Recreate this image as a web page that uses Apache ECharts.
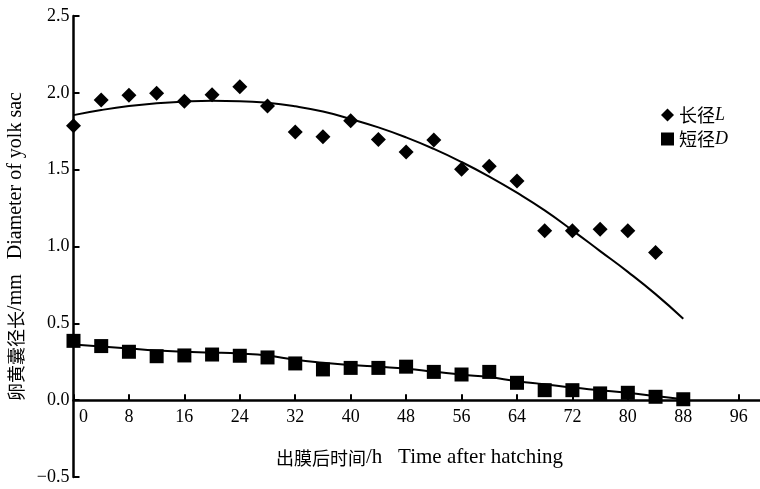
<!DOCTYPE html>
<html><head><meta charset="utf-8">
<script src="https://cdn.jsdelivr.net/npm/echarts@6/dist/echarts.min.js"></script>
<style>html,body{margin:0;padding:0;background:#fff}#c{width:760px;height:489px}</style>
</head><body><div id="c"></div>
<script>
const hours = [0,4,8,12,16,20,24,28,32,36,40,44,48,52,56,60,64,68,72,76,80,84,88];
const longDiam = [1.786,1.953,1.984,1.997,1.945,1.988,2.04,1.914,1.745,1.714,1.818,1.697,1.615,1.693,1.502,1.523,1.426,1.102,1.102,1.113,1.102,0.961];
const shortDiam = [0.386,0.352,0.315,0.286,0.291,0.297,0.289,0.278,0.239,0.200,0.210,0.210,0.218,0.184,0.167,0.184,0.113,0.065,0.065,0.044,0.048,0.022,0.006];
const longFit = [1.855,1.888,1.914,1.932,1.943,1.948,1.946,1.935,1.912,1.878,1.83,1.775,1.71,1.635,1.55,1.455,1.35,1.235,1.105,0.97,0.835,0.69,0.53];
const shortFit = [0.362,0.35,0.336,0.323,0.315,0.31,0.303,0.29,0.263,0.244,0.229,0.217,0.205,0.186,0.166,0.15,0.123,0.103,0.082,0.065,0.048,0.027,0.006];
const xTicks = [0,8,16,24,32,40,48,56,64,72,80,88,96];

const serif = "'Liberation Serif','Noto Sans CJK SC',serif";
const cjk = "'Noto Sans CJK SC',serif";
const pair = (xs, ys) => ys.map((v,i)=>[xs[i], v]);

const chart = echarts.init(document.getElementById('c'));
chart.setOption({
  animation:false,
  backgroundColor:'#fff',
  textStyle:{fontFamily:serif,color:'#000'},
  grid:{left:73.5,right:0.5,top:16,bottom:12,outerBoundsMode:'none',containLabel:false},
  legend:{
    orient:'vertical', left:656, top:101, itemWidth:13, itemHeight:13, itemGap:6, itemTextGap:6,
    data:[{name:'长径L',icon:'diamond'},{name:'短径D',icon:'rect'}],
    itemStyle:{color:'#000',opacity:1},
    textStyle:{fontFamily:serif,fontSize:18,color:'#000',
      rich:{a:{fontFamily:cjk,fontSize:18,color:'#000'},b:{fontFamily:serif,fontSize:18,fontStyle:'italic',color:'#000'}}},
    formatter:n=>'{a|'+n.slice(0,2)+'}{b|'+n.slice(2)+'}'
  },
  xAxis:{
    type:'value', min:0, max:99, interval:8, position:'bottom', offset:-76.8,
    axisLine:{onZero:false,lineStyle:{color:'#000',width:2.5}},
    axisTick:{inside:true,length:6,lineStyle:{color:'#000',width:2},customValues:xTicks},
    axisLabel:{customValues:xTicks,fontSize:18,color:'#000',fontFamily:serif,margin:8,
      formatter:v=>v===0?'{z|0}':String(v),rich:{z:{fontSize:18,fontFamily:serif,color:'#000',padding:[0,0,0,20]}}},
    splitLine:{show:false},
    name:'{c|出膜后时间}{l|/h   Time after hatching}', nameLocation:'middle', nameGap:47,
    nameTextStyle:{fontSize:18,color:'#000',fontFamily:serif,padding:[0,0,0,6],
      rich:{c:{fontFamily:cjk,fontSize:18,color:'#000'},l:{fontFamily:serif,fontSize:21,color:'#000'}}}
  },
  yAxis:{
    type:'value', min:-0.5, max:2.5, interval:0.5,
    axisLine:{show:true,onZero:false,lineStyle:{color:'#000',width:2.5}},
    axisTick:{show:true,inside:true,length:6,lineStyle:{color:'#000',width:2}},
    axisLabel:{fontSize:18,color:'#000',fontFamily:serif,margin:4,formatter:v=>v.toFixed(1).replace('-','−')},
    splitLine:{show:false},
    name:'{c|卵黄囊径长}{l|/mm   Diameter of yolk sac}', nameLocation:'middle', nameGap:35, nameRotate:90,
    nameTextStyle:{fontSize:18,color:'#000',fontFamily:serif,padding:[0,0,0,0],
      rich:{c:{fontFamily:cjk,fontSize:18,color:'#000'},l:{fontFamily:serif,fontSize:20,color:'#000'}}}
  },
  series:[
    {name:'长径L', type:'scatter', symbol:'diamond', symbolSize:15, itemStyle:{color:'#000',opacity:1},
     data:pair(hours,longDiam), z:3},
    {name:'短径D', type:'scatter', symbol:'rect', symbolSize:14, itemStyle:{color:'#000',opacity:1},
     data:pair(hours,shortDiam), z:3},
    {name:'fitL', type:'line', smooth:true, showSymbol:false, symbol:'none',
     lineStyle:{color:'#000',width:2}, data:pair(hours,longFit), z:2},
    {name:'fitD', type:'line', smooth:true, showSymbol:false, symbol:'none',
     lineStyle:{color:'#000',width:2}, data:pair(hours,shortFit), z:2}
  ]
});
</script></body></html>
